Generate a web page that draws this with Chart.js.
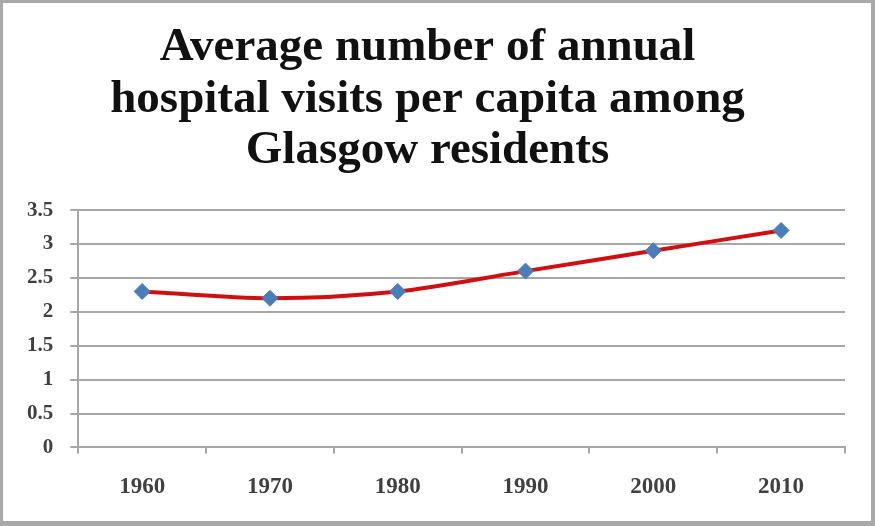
<!DOCTYPE html>
<html>
<head>
<meta charset="utf-8">
<script src="https://cdn.jsdelivr.net/npm/chart.js@4"></script>
<style>
  html, body { margin: 0; padding: 0; background: #fff; }
  #wrap {
    width: 875px; height: 526px; box-sizing: border-box;
    border: 3px solid #a9a9a9; border-bottom-width: 5px; border-right-width: 4px;
    background: #fff;
  }
</style>
</head>
<body>
<div id="wrap"><canvas id="chart"></canvas></div>
<script>
const years = ['1960', '1970', '1980', '1990', '2000', '2010'];
const visits = [2.3, 2.2, 2.3, 2.6, 2.9, 3.2];
const titleLines = ['Average number of annual', 'hospital visits per capita among', 'Glasgow residents'];

const ctx = document.getElementById('chart').getContext('2d');
new Chart(ctx, {
    type: 'line',
    data: {
        labels: years,
        datasets: [{
            label: 'Visits',
            data: visits,
            borderColor: '#d01010',
            borderWidth: 4,
            tension: 0.3,
            pointStyle: 'rectRot',
            pointRadius: 8,
            pointHoverRadius: 8,
            pointBackgroundColor: '#4a7ebb',
            pointBorderColor: '#4a7ebb',
            pointBorderWidth: 1
        }]
    },
    options: {
        responsive: true,
        maintainAspectRatio: false,
        animation: false,
        layout: { padding: { left: 7, right: 26, top: 0, bottom: 0 } },
        scales: {
            x: {
                offset: true,
                grid: { display: true, drawOnChartArea: false, offset: true, color: '#a6a6a6', lineWidth: 2, tickLength: 6 },
                border: { color: '#a6a6a6', width: 2 },
                ticks: { color: '#404040', padding: 20, font: { family: 'Liberation Serif', size: 23, weight: 'bold' } }
            },
            y: {
                min: 0,
                max: 3.5,
                ticks: {
                    stepSize: 0.5, color: '#404040', padding: 17,
                    font: { family: 'Liberation Serif', size: 21, weight: 'bold' },
                    callback: (v) => String(v)
                },
                grid: { color: '#a6a6a6', lineWidth: 2, tickLength: 8 },
                border: { color: '#a6a6a6', width: 2 }
            }
        },
        plugins: {
            legend: { display: false },
            tooltip: { enabled: false },
            title: {
                display: true,
                text: titleLines,
                color: '#111',
                font: { family: 'Liberation Serif', size: 47, weight: 'bold', lineHeight: 1.1 },
                padding: { top: 19, bottom: 33 }
            }
        }
    }
});
</script>
</body>
</html>
